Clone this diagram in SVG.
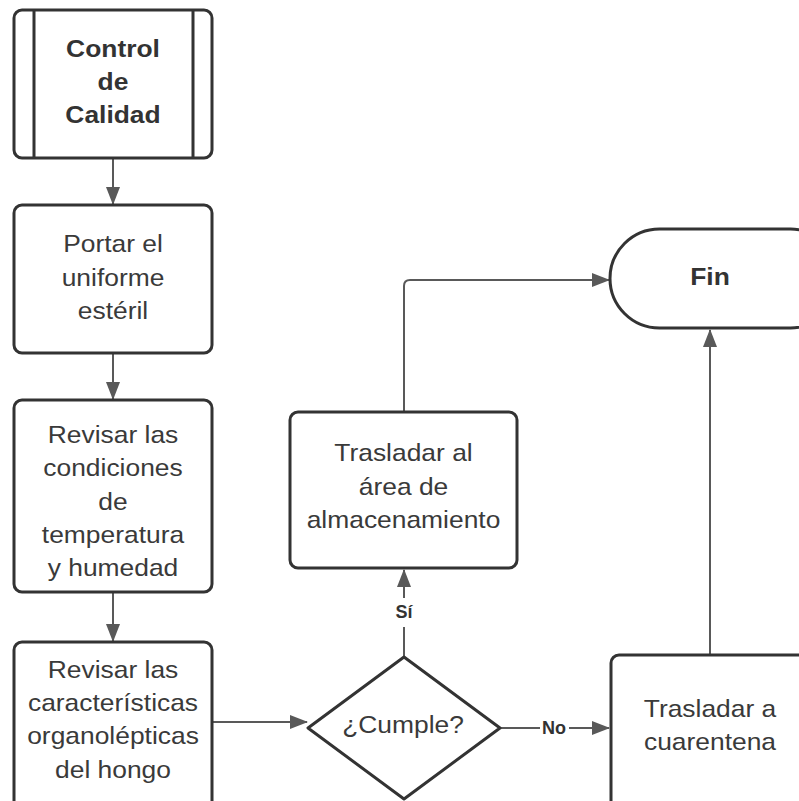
<svg xmlns="http://www.w3.org/2000/svg" width="799" height="801" viewBox="0 0 799 801">
<defs>
<style>
.box{fill:#fff;stroke:#333;stroke-width:3}
.t{font-family:"Liberation Sans",Arial,sans-serif;font-size:24px;fill:#3a3a3a;text-anchor:middle}
.b{font-weight:bold;fill:#333}
.lbl{font-family:"Liberation Sans",Arial,sans-serif;font-size:18px;font-weight:bold;fill:#333;text-anchor:middle}
.c{fill:none;stroke:#595959;stroke-width:2}
</style>
<marker id="ah" viewBox="0 0 18 16" refX="17" refY="8" markerWidth="18" markerHeight="16" markerUnits="userSpaceOnUse" orient="auto">
<path d="M0,1 L18,8 L0,15 z" fill="#595959"/>
</marker>
</defs>
<rect width="799" height="801" fill="#fff"/>
<g id="connectors">
<path class="c" d="M113,159 V204" marker-end="url(#ah)"/>
<path class="c" d="M113,354 V399" marker-end="url(#ah)"/>
<path class="c" d="M113,593 V641" marker-end="url(#ah)"/>
<path class="c" d="M213,722 H307" marker-end="url(#ah)"/>
<path class="c" d="M404,657 V627"/>
<path class="c" d="M404,598 V570" marker-end="url(#ah)"/>
<path class="c" d="M404,412 V286 Q404,280 410,280 H609" marker-end="url(#ah)"/>
<path class="c" d="M500,728 H540"/>
<path class="c" d="M569,728 H609" marker-end="url(#ah)"/>
<path class="c" d="M710,655 V330" marker-end="url(#ah)"/>
<text class="lbl" x="404" y="618">Sí</text>
<text class="lbl" x="554" y="734">No</text>
</g>
<g id="n1">
<rect class="box" x="14" y="10" width="198" height="148" rx="8"/>
<path d="M34,10 V158 M193,10 V158" stroke="#333" stroke-width="3"/>
<g class="t b">
<text transform="translate(113 0) scale(1.1 1)" x="0" y="57">Control</text>
<text transform="translate(113 0) scale(1.1 1)" x="0" y="90">de</text>
<text transform="translate(113 0) scale(1.1 1)" x="0" y="123">Calidad</text>
</g>
</g>
<g id="n2">
<rect class="box" x="14" y="205" width="198" height="148" rx="8"/>
<g class="t">
<text transform="translate(113 0) scale(1.1 1)" x="0" y="252">Portar el</text>
<text transform="translate(113 0) scale(1.1 1)" x="0" y="286">uniforme</text>
<text transform="translate(113 0) scale(1.1 1)" x="0" y="319">estéril</text>
</g>
</g>
<g id="n3">
<rect class="box" x="14" y="400" width="198" height="192" rx="8"/>
<g class="t">
<text transform="translate(113 0) scale(1.1 1)" x="0" y="443">Revisar las</text>
<text transform="translate(113 0) scale(1.1 1)" x="0" y="476.5">condiciones</text>
<text transform="translate(113 0) scale(1.1 1)" x="0" y="510">de</text>
<text transform="translate(113 0) scale(1.1 1)" x="0" y="543">temperatura</text>
<text transform="translate(113 0) scale(1.1 1)" x="0" y="576.5">y humedad</text>
</g>
</g>
<g id="n4">
<rect class="box" x="14" y="642" width="198" height="170" rx="8"/>
<g class="t">
<text transform="translate(113 0) scale(1.1 1)" x="0" y="678">Revisar las</text>
<text transform="translate(113 0) scale(1.1 1)" x="0" y="711">características</text>
<text transform="translate(113 0) scale(1.1 1)" x="0" y="744.5">organolépticas</text>
<text transform="translate(113 0) scale(1.1 1)" x="0" y="778">del hongo</text>
</g>
</g>
<g id="n5">
<path class="box" d="M404,657 L500,728 L404,799 L308,728 Z" stroke-linejoin="round"/>
<text class="t" transform="translate(403 0) scale(1.1 1)" x="0" y="733">¿Cumple?</text>
</g>
<g id="n6">
<rect class="box" x="290" y="412" width="227" height="156" rx="8"/>
<g class="t">
<text transform="translate(403.5 0) scale(1.1 1)" x="0" y="461.5">Trasladar al</text>
<text transform="translate(403.5 0) scale(1.1 1)" x="0" y="495">área de</text>
<text transform="translate(403.5 0) scale(1.1 1)" x="0" y="528">almacenamiento</text>
</g>
</g>
<g id="n7">
<rect class="box" x="611" y="655" width="210" height="160" rx="8"/>
<g class="t">
<text transform="translate(710 0) scale(1.1 1)" x="0" y="717">Trasladar a</text>
<text transform="translate(710 0) scale(1.1 1)" x="0" y="750">cuarentena</text>
</g>
</g>
<g id="n8">
<rect class="box" x="610" y="229" width="230" height="99" rx="49.5"/>
<text class="t b" transform="translate(710 0) scale(1.1 1)" x="0" y="285">Fin</text>
</g>
</svg>
